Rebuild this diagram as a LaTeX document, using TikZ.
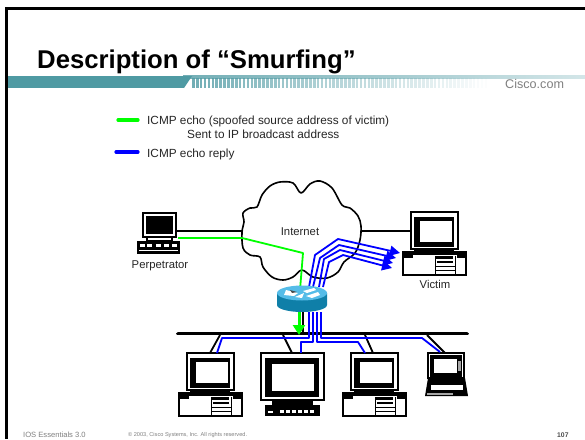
\documentclass[tikz,border=0pt]{standalone}
\usepackage{fontspec}
\setmainfont{Liberation Sans}
\usetikzlibrary{arrows.meta}
\definecolor{barteal}{HTML}{4F9AA3}
\definecolor{routerside}{HTML}{0F7FA8}
\definecolor{routertop}{HTML}{55BCE8}
\definecolor{greenline}{HTML}{00FF00}
\definecolor{blueline}{HTML}{0000FF}
\tikzset{
  x=1pt,y=-1pt,
  lab/.style={inner sep=0,font=\fontsize{11.3}{13}\selectfont,text=black!85},
  leg/.style={inner sep=0,font=\fontsize{11.8}{14}\selectfont,text=black!85,anchor=base west},
  foot/.style={inner sep=0,text=black!50,anchor=west},
  blk/.style={draw=black,line width=1.8pt},
  grn/.style={draw=greenline,line width=1.8pt},
  blu/.style={draw=blueline,line width=1.8pt,line join=round},
  bluarrow/.style={blu,-{Triangle[length=10pt,width=10pt,fill=blueline]}},
  hostbox/.style={inner sep=0,minimum width=#1},
  hw/.style={fill=white,draw=black,line width=1.3pt},
  desktop/.pic={
    \fill[hw] (0,0) rectangle (47,37);
    \fill[black] (3,5) rectangle (43,35);
    \fill[white] (9,9) rectangle (41,30);
    \fill[black] (3,37) rectangle (43,40);
    \fill[hw] (-8,40) rectangle (55,63);
    \fill[black] (-7,41) rectangle (54,43);
    \fill[black] (-7,43) rectangle (2,46);
    \fill[black] (24,44) rectangle (42,47);
    \draw[black,line width=1pt] (24,44) -- (24,63) (44,44) -- (44,63);
    \fill[black] (26,49) rectangle (42,51);
    \draw[black,line width=1pt] (24,54) -- (44,54) (24,58) -- (44,58);
    \fill[black] (46,43) rectangle (54,46);
  },
}
\begin{document}
\begin{tikzpicture}
\useasboundingbox (0,0) rectangle (585,439);
\fill[white] (0,0) rectangle (585,439);
% slide frame
\fill[black] (5,7) rectangle (585,10);
\fill[black] (5,7) rectangle (8,439);
% teal band
\fill[left color=barteal!80,right color=barteal!25] (183,75) rectangle (585,78);
\fill[barteal] (8,76) rectangle (184,88);
\fill[barteal] (184,76) -- (192,76) -- (184,88) -- cycle;
\foreach \i in {0,...,76}{
  \pgfmathsetmacro{\op}{max(0,.8*(1-\i/76))}
  \fill[barteal,opacity=\op] ({192+3.9*\i},78) rectangle ({192+3.9*\i+2.6},88);
}
% title and logo
\node[inner sep=0,anchor=base west,font=\fontsize{25.7}{30}\selectfont\bfseries] (title) at (37,68) {Description of “Smurfing”};
\node[inner sep=0,anchor=west,font=\fontsize{12.6}{14}\selectfont,text=black!50] (logo) at (505,84) {Cisco.com};
% legend
\coordinate (lg1) at (118,120); \coordinate (lg2) at (138,120);
\coordinate (lb1) at (116,152); \coordinate (lb2) at (138,152);
\draw[draw=greenline,line width=3.2pt,line cap=round] (lg1) -- (lg2);
\draw[draw=blueline,line width=3.2pt,line cap=round] (lb1) -- (lb2);
\node[leg] (t1) at (147,124) {ICMP echo (spoofed source address of victim)};
\node[leg] (t2) at (187,138) {Sent to IP broadcast address};
\node[leg] (t3) at (147,157) {ICMP echo reply};
% bus
\coordinate (busL) at (178,333.5); \coordinate (busR) at (467,333.5);
\draw[black,line width=3.8pt,line cap=round] (busL) -- (busR);
% coordinates of connector ends
\coordinate (cW1) at (242,231); \coordinate (cW2) at (242,238);
\coordinate (cE) at (361,231);
\coordinate (pE1) at (176,231); \coordinate (pE2) at (178,238);
\coordinate (vW) at (411,231);
% cloud
\draw[black,line width=1.6pt,fill=white,line join=round] plot[smooth cycle,tension=.55] coordinates {
 (242,232) (244,222) (243,213) (250,208) (257,207) (262,195) (270,186) (280,182) (293,183) (301,193)
 (310,184) (320,181) (332,188) (342,205) (350,208) (358,216) (361,226) (360,240) (355,253) (344,262)
 (338,272) (327,278) (313,277) (302,270) (293,277) (283,280) (272,277) (263,267) (260,257) (250,255)
 (243,248)};
\node[lab] (internet) at (300,232) {Internet};
% black links
\draw[blk] (pE1) -- (cW1);
\draw[blk] (cE) -- (vW);
\coordinate (rB) at (303,312); \coordinate (rBb) at (303,332);
\draw[blk] (rB) -- (rBb);
% green path
\coordinate (gk) at (303,253); \coordinate (gd) at (300,290);
\draw[grn,line join=round] (pE2) -- (cW2) -- (gk) -- (gd);
\coordinate (gs) at (299,312); \coordinate (gt) at (299,335);
\draw[draw=greenline,line width=3pt,-{Triangle[length=10pt,width=12pt,fill=greenline]}] (gs) -- (gt);
% blue replies
\coordinate (a0) at (309,287); \coordinate (a1) at (315,255); \coordinate (a2) at (338,239); \coordinate (a3) at (400,253);
\coordinate (b0) at (313,287); \coordinate (b1) at (320,258); \coordinate (b2) at (339,245); \coordinate (b3) at (396,258);
\coordinate (c0) at (319,287); \coordinate (c1) at (324,259); \coordinate (c2) at (340,250); \coordinate (c3) at (393,263);
\coordinate (d0) at (323,287); \coordinate (d1) at (329,262); \coordinate (d2) at (343,255); \coordinate (d3) at (392,268);
\draw[bluarrow] (a0) -- (a1) -- (a2) -- (a3);
\draw[bluarrow] (b0) -- (b1) -- (b2) -- (b3);
\draw[bluarrow] (c0) -- (c1) -- (c2) -- (c3);
\draw[bluarrow] (d0) -- (d1) -- (d2) -- (d3);
% router
\coordinate (router) at (302,293);
\fill[routerside] (277,293) -- (277,305) arc[start angle=180,end angle=0,x radius=25,y radius=7] -- (327,293) -- cycle;
\fill[routertop] (router) ellipse[x radius=25,y radius=7.5];
\fill[white] (286,290) -- (298,293) -- (294,296) -- (284,295) -- cycle;
\fill[white] (306,296) -- (318,292) -- (320,295) -- (312,298) -- cycle;
\fill[white] (303,291) -- (314,288) -- (316,290) -- (307,293) -- cycle;
\fill[black!70] (290,290) -- (297,292) -- (292,293) -- cycle;
\fill[white] (295,297) -- (304,293) -- (302,298) -- cycle;
% computers
\node[hostbox=33pt,minimum height=24pt] (perp) at (160,225) {};
\fill[hw] (143,213) rectangle (176,237);
\fill[black] (146,216) rectangle (173,234);
\fill[hw] (147,237) rectangle (172,241);
\fill[black] (137,241) rectangle (180,254);
\foreach \x in {140,147,156,164,172} \fill[white] (\x,244) rectangle ({\x+5},247);
\draw[white,line width=.4pt] (139,250) -- (178,250);
\node[lab] (perplab) at (160,266) {Perpetrator};
\pic at (411,212) {desktop};
\node[hostbox=47pt,minimum height=37pt] (victim) at (434.5,230.5) {};
\node[lab] (viclab) at (435,284) {Victim};
\pic at (187,353) {desktop};
\node[hostbox=47pt,minimum height=37pt] (h1) at (210,371) {};
\pic at (351,353) {desktop};
\node[hostbox=47pt,minimum height=37pt] (h3) at (374,371) {};
% monitor with keyboard
\node[hostbox=63pt,minimum height=47pt] (h2) at (292.5,376.5) {};
\fill[hw] (261,353) rectangle (324,400);
\fill[black] (265,358) rectangle (319,397);
\fill[white] (272,364) rectangle (314,391);
\fill[black] (272,400) rectangle (313,405);
\fill[black] (265,405) rectangle (320,416);
\foreach \x in {280,286,292,298,304,310} \fill[white] (\x,410) rectangle ({\x+4},413);
\fill[white] (268,411) rectangle (273,413);
% laptop
\node[hostbox=36pt,minimum height=25pt] (h4) at (446,365.5) {};
\fill[hw] (428,353) rectangle (464,378);
\fill[black] (430,355) rectangle (462,378);
\fill[white] (434,359) rectangle (457,373);
\fill[black!35] (458,361) rectangle (461,371);
\fill[black] (428,378) -- (465,378) -- (468,396) -- (425,396) -- cycle;
\fill[white] (431,385) rectangle (463,390);
\fill[black!35] (427,393) rectangle (453,395);
% drops from bus
\coordinate (k1) at (220,335); \coordinate (m1) at (210,353);
\coordinate (k2) at (283,335); \coordinate (m2) at (292,353);
\coordinate (k3) at (365,335); \coordinate (m3) at (373,353);
\coordinate (k4) at (427,335); \coordinate (m4) at (445,353);
\draw[blk] (k1) -- (m1);
\draw[blk] (k2) -- (m2);
\draw[blk] (k3) -- (m3);
\draw[blk] (k4) -- (m4);
% blue to hosts
\coordinate (s1) at (309,312); \coordinate (e1a) at (309,338); \coordinate (e1b) at (222,338); \coordinate (e1c) at (217,353);
\coordinate (s2) at (313,312); \coordinate (e2a) at (313,342); \coordinate (e2b) at (301,342); \coordinate (e2c) at (301,353);
\coordinate (s3) at (317,312); \coordinate (e3a) at (317,342); \coordinate (e3b) at (358,342); \coordinate (e3c) at (365,353);
\coordinate (s4) at (321,312); \coordinate (e4a) at (321,338); \coordinate (e4b) at (422,338); \coordinate (e4c) at (440,352);
\draw[blu] (s1) -- (e1a) -- (e1b) -- (e1c);
\draw[blu] (s2) -- (e2a) -- (e2b) -- (e2c);
\draw[blu] (s3) -- (e3a) -- (e3b) -- (e3c);
\draw[blu] (s4) -- (e4a) -- (e4b) -- (e4c);
% footer
\node[foot,font=\fontsize{7.6}{9}\selectfont] (f1) at (23,435) {IOS Essentials 3.0};
\node[foot,font=\fontsize{5.6}{7}\selectfont] (f2) at (128,435) {© 2003, Cisco Systems, Inc. All rights reserved.};
\node[foot,font=\fontsize{6.8}{8}\selectfont\bfseries,text=black!70] (f3) at (557,435) {107};
\end{tikzpicture}
\end{document}
